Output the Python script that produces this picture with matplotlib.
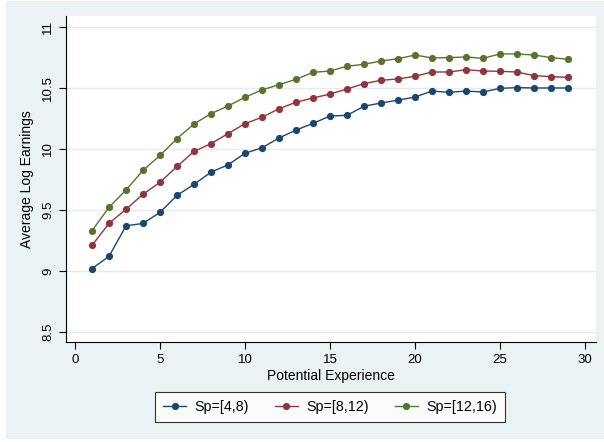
import matplotlib
matplotlib.use("Agg")
import matplotlib.pyplot as plt
from matplotlib.patches import Rectangle

plt.rcParams['font.family'] = ['Liberation Sans', 'DejaVu Sans']

experience = list(range(1, 30))
sp_4_8 = [9.02, 9.12, 9.37, 9.39, 9.48, 9.62, 9.71, 9.81, 9.87, 9.965,
          10.01, 10.09, 10.155, 10.21, 10.27, 10.276, 10.35, 10.377, 10.40, 10.426,
          10.475, 10.464, 10.475, 10.467, 10.497, 10.503, 10.50, 10.50, 10.50]
sp_8_12 = [9.21, 9.39, 9.506, 9.629, 9.727, 9.857, 9.98, 10.044, 10.126, 10.208,
           10.26, 10.33, 10.383, 10.418, 10.45, 10.492, 10.535, 10.563, 10.574, 10.596,
           10.631, 10.631, 10.65, 10.639, 10.637, 10.631, 10.601, 10.593, 10.587]
sp_12_16 = [9.33, 9.522, 9.664, 9.825, 9.947, 10.085, 10.205, 10.29, 10.352, 10.424,
            10.484, 10.527, 10.571, 10.628, 10.639, 10.678, 10.694, 10.721, 10.74, 10.77,
            10.746, 10.749, 10.754, 10.743, 10.779, 10.779, 10.77, 10.749, 10.735]
labels = ["Sp=[4,8)", "Sp=[8,12)", "Sp=[12,16)"]
colors = ["#1a476f", "#90353b", "#55752f"]
xticks = [0, 5, 10, 15, 20, 25, 30]
yticks = [8.5, 9, 9.5, 10, 10.5, 11]
ytick_labels = ["8.5", "9", "9.5", "10", "10.5", "11"]

bg = "#eaf2f3"
W, H = 604, 442
fig = plt.figure(figsize=(W/100, H/100), dpi=100, facecolor='white')
fig.patches.append(Rectangle((6/W, 1 - 439/H), (W-6)/W, (439-1)/H,
                             transform=fig.transFigure, facecolor=bg,
                             edgecolor='none', zorder=-10))
ax = fig.add_axes([66/W, 1 - 342/H, (596-66)/W, (342-16)/H])
ax.set_facecolor("white")

for ys, lab, c in zip([sp_4_8, sp_8_12, sp_12_16], labels, colors):
    ax.plot(experience, ys, color=c, lw=1.0, marker='o', markersize=5.2,
            markeredgewidth=0, label=lab)

ax.set_xlim(-0.53, 30.65)
ax.set_ylim(8.418, 11.09)
ax.set_xticks(xticks)
ax.set_yticks(yticks)
ax.set_yticklabels(ytick_labels, rotation=90, va='center')
ax.grid(axis='y', color='#e1ecee', lw=1.0)
ax.set_axisbelow(True)
for s in ['top', 'right']:
    ax.spines[s].set_visible(False)
for s in ['left', 'bottom']:
    ax.spines[s].set_color('black')
    ax.spines[s].set_linewidth(0.8)
ax.tick_params(axis='both', direction='out', length=5, width=0.8, labelsize=9.5, color='black')
ax.set_xlabel("Potential Experience", fontsize=10, labelpad=2)
ax.set_ylabel("Average Log Earnings", fontsize=10, labelpad=6)

leg = fig.legend(loc='center', bbox_to_anchor=(330/W, 1 - 407/H), ncol=3,
                 fontsize=10.3, frameon=True, fancybox=False, edgecolor='black',
                 handlelength=1.6, columnspacing=1.8, borderpad=0.55,
                 handletextpad=0.6)
leg.get_frame().set_linewidth(0.8)
leg.get_frame().set_facecolor('white')

fig.savefig("out.png", dpi=100, facecolor='white')
